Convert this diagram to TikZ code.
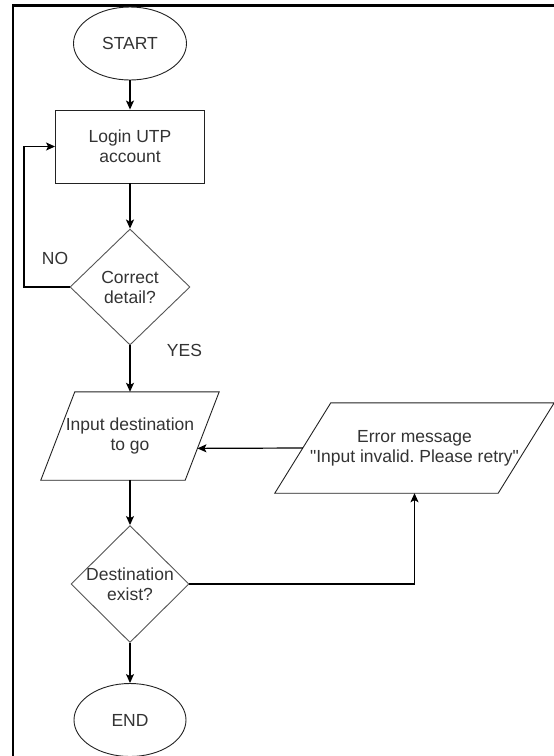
\documentclass[tikz,border=0pt]{standalone}
\usepackage{fontspec}
\setmainfont{Liberation Sans}
\usetikzlibrary{shapes.geometric,arrows.meta,calc}

\definecolor{txtgray}{HTML}{333333}
\definecolor{shapeline}{HTML}{222222}
\definecolor{decline}{HTML}{555555}

\tikzset{
  every node/.style={font=\fontsize{17.5}{20}\selectfont, text=txtgray, align=center, inner sep=0pt},
  terminal/.style={draw=shapeline, ellipse, line width=0.9, minimum width=113, minimum height=73},
  process/.style={draw=shapeline, rectangle, line width=0.9, minimum width=149, minimum height=73},
  decision/.style={draw=decline, diamond, line width=0.9, inner sep=-3pt},
  iobox/.style={rectangle},
  ioline/.style={draw=shapeline, line width=0.9},
  arr/.style={-{Stealth[length=9pt, width=8pt, inset=2pt]}, line width=1.2},
  lbl/.style={text=txtgray}
}

% slanted outline round a rectangle node: #1 node, #2 half of the slant
\newcommand{\slantbox}[2]{
    \coordinate (#1-tl) at ($(#1.north west)+(#2,0)$);
    \coordinate (#1-tr) at ($(#1.north east)+(#2,0)$);
    \coordinate (#1-br) at ($(#1.south east)-(#2,0)$);
    \coordinate (#1-bl) at ($(#1.south west)-(#2,0)$);
    \draw[ioline] (#1-tl) -- (#1-tr) -- (#1-br) -- (#1-bl) -- cycle;
}

\begin{document}
\frenchspacing
\begin{tikzpicture}[x=1pt, y=-1pt]
    \useasboundingbox (0,0) rectangle (554,756);
    % frame of the screenshot
    \draw[line width=2.2] (13,756) -- (13,5.5) -- (554,5.5);

    % main column
    \node[terminal] (start) at (130,43.5) {START};
    \node[process] (login) at (130,146.5) {Login UTP\\account};
    \node[decision, minimum width=120, minimum height=116] (check) at (130,287) {Correct\\detail?};
    \node[iobox, minimum width=144, minimum height=88] (inp) at (130,436) {Input destination\\to go};
    \slantbox{inp}{17}
    \node[decision, minimum width=118, minimum height=117] (dest) at (130,584) {Destination\\exist?};
    \node[terminal, minimum width=112] (end) at (130,720) {END};

    % error branch
    \node[iobox, minimum width=223, minimum height=90] (err) at (414.5,448)
          {Error message\\\textquotedbl Input invalid. Please retry\textquotedbl};
    \slantbox{err}{28}

    \node[lbl] (no) at (55,258) {NO};
    \node[lbl] (yes) at (184.5,350) {YES};

    \coordinate (loopx) at (24,0);

    \draw[arr] (start) -- (login);
    \draw[arr] (login) -- (check);
    \draw[arr] (check.west) -- (check.west -| loopx) |- (login.west);
    \draw[arr] (check.south) -- (inp.north);
    \draw[arr] (err.west) -- ($(inp-br)!.36!(inp-tr)$);
    \draw[arr] (inp.south) -- (dest.north);
    \draw[arr] (dest.east) -| (err.south);
    \draw[arr] (dest.south) -- (end.north);

\end{tikzpicture}
\end{document}
